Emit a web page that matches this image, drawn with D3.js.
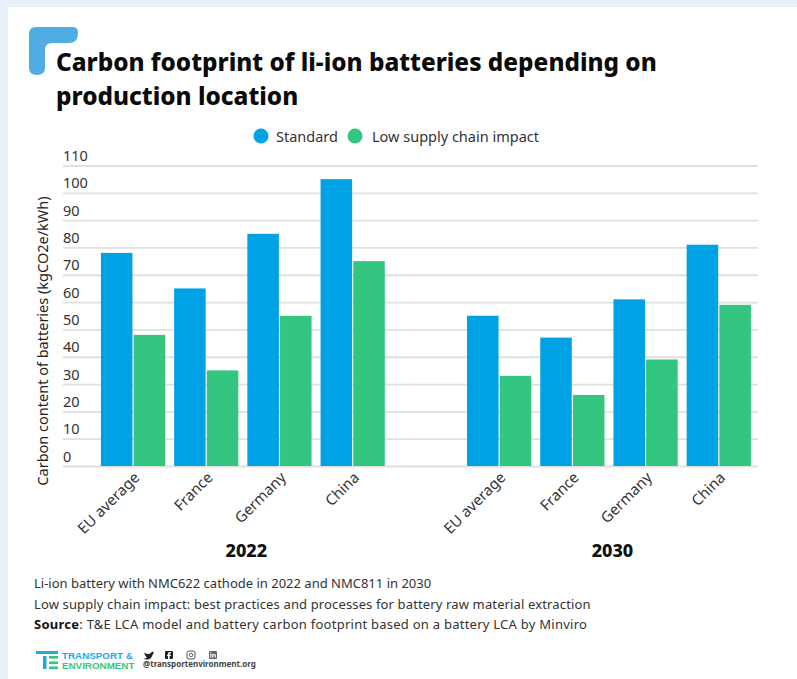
<!DOCTYPE html>
<html>
<head>
<meta charset="utf-8">
<script src="https://cdn.jsdelivr.net/npm/d3@7"></script>
<style>
html,body{margin:0;padding:0;background:#fff}
svg{display:block;font-family:"Noto Sans",sans-serif}
</style>
</head>
<body>
<div id="chart"></div>
<script>
const years = ["2022", "2030"];
const countries = ["EU average", "France", "Germany", "China"];
const seriesNames = ["Standard", "Low supply chain impact"];
const standard2022 = [78, 65, 85, 105];
const lowImpact2022 = [48, 35, 55, 75];
const standard2030 = [55, 47, 61, 81];
const lowImpact2030 = [33, 26, 39, 59];
const yTicks = [0, 10, 20, 30, 40, 50, 60, 70, 80, 90, 100, 110];
const titleLines = ["Carbon footprint of li-ion batteries depending on", "production location"];
const yLabel = "Carbon content of batteries (kgCO2e/kWh)";
const colors = ["#00a2e6", "#34c680"];

const rows = {
  "2022": [standard2022, lowImpact2022],
  "2030": [standard2030, lowImpact2030]
};

const width = 797, height = 679;
const svg = d3.select("#chart").append("svg").attr("width", width).attr("height", height);

// Page backdrop with the white card on top
svg.append("rect").attr("width", width).attr("height", height).attr("fill", "#e8f0f9");
svg.append("rect").attr("x", 8).attr("y", 7).attr("width", width - 8).attr("height", height - 7).attr("fill", "#fff");

// Corner bracket beside the title
svg.append("path")
  .attr("d", "M37 75 Q29 75 29 68 V34 Q29 27 36 27 H72 Q78 27 78 32 Q78 43 70 43 H52 Q45 43 45 50 V68 Q45 75 37 75 Z")
  .attr("fill", "#4fade3");

svg.append("g").selectAll("text").data(titleLines).join("text")
  .attr("x", 56).attr("y", (d, i) => 70.5 + i * 34)
  .attr("font-size", 24.33).attr("font-weight", 800).attr("fill", "#0a0a0a")
  .text(d => d);

// Legend
const legendX = [261, 355], legendTextX = [276, 372];
const legend = svg.append("g").selectAll("g").data(seriesNames).join("g");
legend.append("circle").attr("cx", (d, i) => legendX[i]).attr("cy", 136).attr("r", 7.5).attr("fill", (d, i) => colors[i]);
legend.append("text").attr("x", (d, i) => legendTextX[i]).attr("y", 141.5)
  .attr("font-size", 14.5).attr("fill", "#333").text(d => d);

// Scales: year groups, countries inside a year, series inside a country
const y = d3.scaleLinear().domain([0, 110]).range([466, 165.5]);
const xYear = d3.scaleBand().domain(years).range([96.4, 755.4]).paddingInner(0.2);
const xCountry = d3.scaleBand().domain(countries).range([0, xYear.bandwidth()]).paddingInner(0.123).paddingOuter(0.0615);
const xSeries = d3.scaleBand().domain(d3.range(seriesNames.length)).range([0, xCountry.bandwidth()]).paddingInner(0.035);

// Horizontal grid and tick labels
const yAxis = d3.axisLeft(y).tickValues(yTicks).tickSize(-695).tickPadding(0);
const yG = svg.append("g").attr("transform", "translate(63,0)").call(yAxis);
yG.select(".domain").remove();
yG.selectAll("line").attr("stroke", "#e0e0e0").attr("stroke-width", 1.8);
yG.selectAll("text")
  .attr("x", 0).attr("dy", -5).attr("text-anchor", "start")
  .attr("font-family", '"Noto Sans",sans-serif').attr("font-size", 14.5).attr("fill", "#333");

svg.append("text")
  .attr("transform", "translate(48,341) rotate(-90)")
  .attr("text-anchor", "middle").attr("font-size", 14.5).attr("fill", "#222")
  .text(yLabel);

// Bars and group labels for each year
const groups = svg.append("g").selectAll("g").data(years).join("g")
  .attr("transform", d => `translate(${xYear(d)},0)`);

groups.each(function (year) {
  const g = d3.select(this);
  rows[year].forEach((values, s) => {
    g.append("g").selectAll("rect").data(values).join("rect")
      .attr("x", (d, i) => xCountry(countries[i]) + xSeries(s))
      .attr("y", d => y(d))
      .attr("width", xSeries.bandwidth())
      .attr("height", d => y(0) - y(d))
      .attr("fill", colors[s]);
  });
  g.append("g").selectAll("text").data(countries).join("text")
    .attr("transform", d => `translate(${xCountry(d) + xCountry.bandwidth() / 2},471) rotate(-45)`)
    .attr("text-anchor", "end").attr("dy", "0.7em")
    .attr("font-size", 15).attr("fill", "#333")
    .text(d => d);
  g.append("text")
    .attr("x", xYear.bandwidth() / 2 + 3.5).attr("y", 557)
    .attr("text-anchor", "middle").attr("font-size", 18).attr("font-weight", 800).attr("fill", "#111")
    .text(year);
});

// Footnotes
const notes = svg.append("g").attr("font-size", 13).attr("fill", "#333");
notes.append("text").attr("x", 34).attr("y", 588).text("Li-ion battery with NMC622 cathode in 2022 and NMC811 in 2030");
notes.append("text").attr("x", 34).attr("y", 609).attr("letter-spacing", 0.135).text("Low supply chain impact: best practices and processes for battery raw material extraction");
const src = notes.append("text").attr("x", 34).attr("y", 629).attr("letter-spacing", 0.25);
src.append("tspan").attr("font-weight", 700).attr("fill", "#111").text("Source");
src.append("tspan").text(": T&E LCA model and battery carbon footprint based on a battery LCA by Minviro");

// Organisation logo and handles
const logo = svg.append("g");
logo.append("rect").attr("x", 36).attr("y", 651).attr("width", 22).attr("height", 3).attr("fill", "#1fa8e4");
logo.append("rect").attr("x", 43).attr("y", 656).attr("width", 3.5).attr("height", 13).attr("fill", "#1fa8e4");
[656, 661.5, 666.5].forEach(v => logo.append("rect").attr("x", 49).attr("y", v).attr("width", 9).attr("height", 2.6).attr("fill", "#34c680"));
logo.append("text").attr("x", 62).attr("y", 658.5).attr("font-size", 9.8).attr("font-weight", 700).attr("fill", "#1fa8e4").attr("font-family", '"Liberation Sans",sans-serif').text("TRANSPORT &");
logo.append("text").attr("x", 62).attr("y", 668.5).attr("font-size", 9.8).attr("font-weight", 700).attr("fill", "#34c680").attr("font-family", '"Liberation Sans",sans-serif').text("ENVIRONMENT");
logo.append("path").attr("d", "M144 652.5 Q148 655 150 653.5 Q152 651 154 652 L152.5 655 Q151 660 146 659.5 Q145 659.5 144 658.5 Q146 658.5 147 657.5 Q145 656 144 652.5 Z").attr("fill", "#222");
[169, 191, 213].forEach((cx, i) => {
  if (i === 1) {
    logo.append("rect").attr("x", cx - 4).attr("y", 651).attr("width", 8).attr("height", 8).attr("rx", 2).attr("fill", "none").attr("stroke", "#555").attr("stroke-width", 1);
    logo.append("circle").attr("cx", cx).attr("cy", 655).attr("r", 1.8).attr("fill", "none").attr("stroke", "#555").attr("stroke-width", 0.9);
  } else {
    logo.append("rect").attr("x", cx - 4).attr("y", 651).attr("width", 8).attr("height", 8).attr("rx", 1).attr("fill", i === 2 ? "#666" : "#222");
    // White glyph shapes for the two square social icons
    const glyph = i === 2
      ? `M${cx - 2.8} 654h1.2v3.4h-1.2zM${cx - 2.8} 652.4h1.2v1h-1.2zM${cx - 0.8} 654h1.1v.5q1.9-1.2 2.6.7v2.2h-1.2v-2q-.4-1-1.3-.2v2.2h-1.2z`
      : `M${cx + 0.6} 659v-3h1.2l.2-1.3h-1.4v-.8q0-.6.7-.6h.7v-1.2h-1.2q-1.8 0-1.8 1.7v.9h-1v1.3h1v3z`;
    logo.append("path").attr("d", glyph).attr("fill", "#fff");
  }
});
logo.append("text").attr("x", 143).attr("y", 667).attr("font-size", 8).attr("font-weight", 700).attr("fill", "#444").text("@transportenvironment.org");
</script>
</body>
</html>
